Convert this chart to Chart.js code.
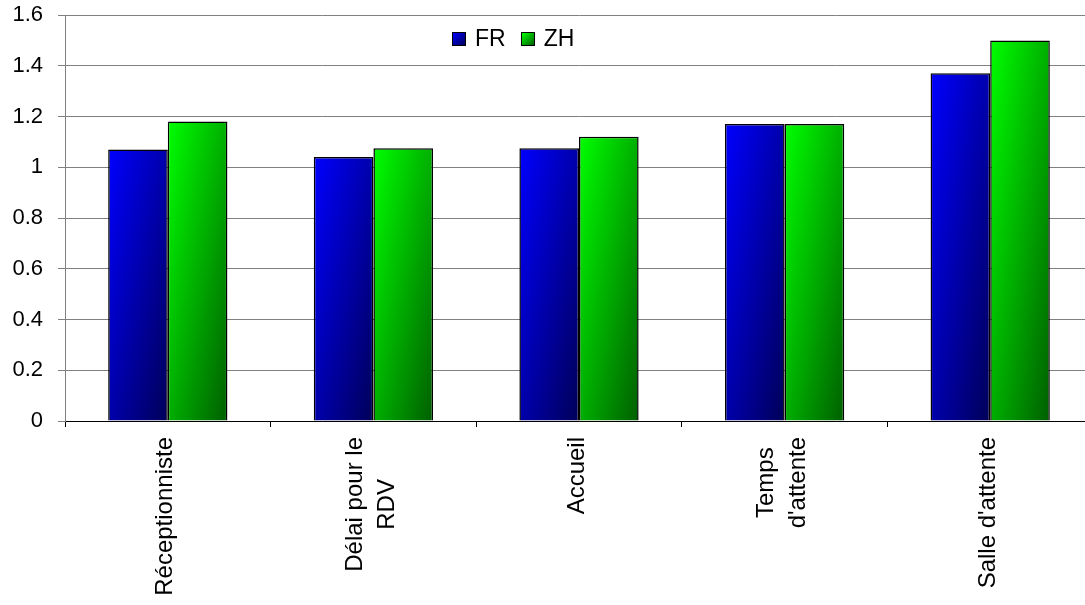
<!DOCTYPE html>
<html>
<head>
<meta charset="utf-8">
<script src="https://cdn.jsdelivr.net/npm/chart.js@4/dist/chart.umd.min.js"></script>
<style>
  html, body { margin: 0; padding: 0; background: #fff; overflow: hidden; }
  #wrap { position: relative; width: 1093px; height: 605px; }
  #legend {
    position: absolute; left: 452px; top: 25px;
    font: 23px "Liberation Sans", Arial, sans-serif; color: #000;
    display: flex; align-items: center; white-space: nowrap;
  }
  #legend .item { display: flex; align-items: center; margin-right: 15px; }
  #legend .sw { display: inline-block; width: 12px; height: 12px; border: 1px solid #000; margin-right: 9px; }
</style>
</head>
<body>
<div id="wrap">
  <canvas id="c" width="1093" height="605"></canvas>
  <div id="legend"></div>
</div>
<script>
// Categories (one entry per line of the rotated label)
const categories = [
  ["Réceptionniste"],
  ["Délai pour le", "RDV"],
  ["Accueil"],
  ["Temps", "d'attente"],
  ["Salle d'attente"]
];
const seriesNames = ["FR", "ZH"];
const frValues = [1.07, 1.04, 1.075, 1.17, 1.37];
const zhValues = [1.18, 1.075, 1.12, 1.17, 1.50];
const yTicks = [0, 0.2, 0.4, 0.6, 0.8, 1, 1.2, 1.4, 1.6];

// Diagonal gradient stops per series: light top-left, dark bottom-right
const fills = [["#0000FF", "#000058"], ["#00FF00", "#005F00"]];

const FONT = '"Liberation Sans", Arial, sans-serif';

// Legend
const legend = document.getElementById('legend');
seriesNames.forEach((name, i) => {
  const item = document.createElement('span');
  item.className = 'item';
  const sw = document.createElement('span');
  sw.className = 'sw';
  sw.style.background = `linear-gradient(135deg, ${fills[i][0]}, ${fills[i][1]})`;
  const txt = document.createElement('span');
  txt.textContent = name;
  item.appendChild(sw);
  item.appendChild(txt);
  legend.appendChild(item);
});

// Fill each bar with a gradient whose bands follow the bar's anti-diagonal
const barGradient = {
  id: 'barGradient',
  beforeDatasetsDraw(chart) {
    const ctx = chart.ctx;
    chart.data.datasets.forEach((ds, di) => {
      const meta = chart.getDatasetMeta(di);
      meta.data.forEach(bar => {
        const { x, y, base, width } = bar.getProps(['x', 'y', 'base', 'width'], true);
        const L = x - width / 2, T = Math.min(y, base);
        const w = width, h = Math.abs(base - y);
        const k = 2 * w * h / (w * w + h * h);
        const g = ctx.createLinearGradient(L, T, L + h * k, T + w * k);
        g.addColorStop(0, fills[di][0]);
        g.addColorStop(1, fills[di][1]);
        // own copy so every bar keeps its own gradient
        bar.options = Object.assign({}, bar.options, { backgroundColor: g });
      });
    });
  }
};

// Vertical category labels, lines centred on each other
const xLabels = {
  id: 'xLabels',
  afterDraw(chart) {
    const ctx = chart.ctx;
    const xs = chart.scales.x;
    const top = chart.chartArea.bottom + 16;
    const lineH = 32;
    ctx.save();
    ctx.font = '24px ' + FONT;
    ctx.fillStyle = '#000';
    ctx.textAlign = 'center';
    ctx.textBaseline = 'middle';
    categories.forEach((lines, i) => {
      const cx = xs.getPixelForValue(i) - 2;
      const maxW = Math.max(...lines.map(l => ctx.measureText(l).width));
      ctx.save();
      ctx.translate(cx, top + maxW / 2);
      ctx.rotate(-Math.PI / 2);
      lines.forEach((l, j) => ctx.fillText(l, 0, (j - (lines.length - 1) / 2) * lineH));
      ctx.restore();
    });
    ctx.restore();
  }
};

new Chart(document.getElementById('c'), {
  type: 'bar',
  data: {
    labels: categories.map(l => l.join(' ')),
    datasets: [
      {
        label: seriesNames[0], data: frValues,
        backgroundColor: fills[0][0], borderColor: '#000', borderWidth: 1.5,
        categoryPercentage: 0.58, barPercentage: 1
      },
      {
        label: seriesNames[1], data: zhValues,
        backgroundColor: fills[1][0], borderColor: '#000', borderWidth: 1.5,
        categoryPercentage: 0.58, barPercentage: 1
      }
    ]
  },
  options: {
    responsive: false,
    animation: false,
    devicePixelRatio: 1,
    layout: { padding: { top: 15, right: 0, left: 0, bottom: 0 } },
    plugins: {
      colors: { enabled: false },
      legend: { display: false },
      tooltip: { enabled: false }
    },
    scales: {
      x: {
        offset: true,
        grid: { offset: true, drawOnChartArea: false, tickLength: 6, color: '#000' },
        border: { color: '#000', width: 1 },
        ticks: { display: false },
        afterFit: s => { s.height = 184; s.paddingLeft = 0; s.paddingRight = 0; }
      },
      y: {
        min: 0,
        max: 1.6,
        afterBuildTicks: s => { s.ticks = yTicks.map(v => ({ value: v })); },
        grid: { color: '#808080', tickLength: 7 },
        border: { color: '#808080', width: 1 },
        ticks: {
          padding: 15,
          color: '#000',
          font: { family: FONT, size: 22 },
          callback: v => String(+v.toFixed(1))
        },
        afterFit: s => { s.width = 65; s.paddingTop = 0; s.paddingBottom = 0; }
      }
    }
  },
  plugins: [barGradient, xLabels]
});
</script>
</body>
</html>
